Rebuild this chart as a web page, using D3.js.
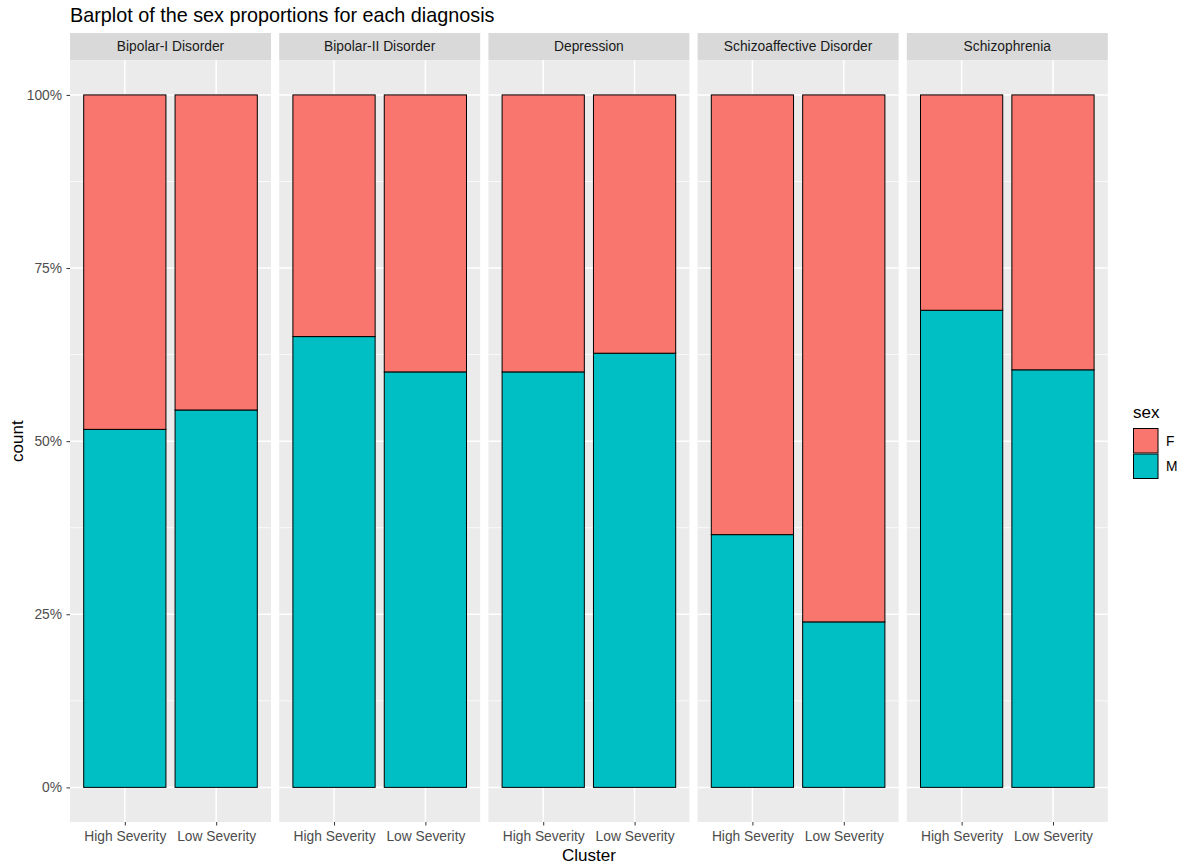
<!DOCTYPE html>
<html>
<head>
<meta charset="utf-8">
<script src="https://cdn.jsdelivr.net/npm/d3@7"></script>
<style>
  body { margin: 0; background: #fff; }
  svg { display: block; font-family: "Liberation Sans", Arial, sans-serif; }
</style>
</head>
<body>
<svg id="chart" width="1191" height="868"></svg>
<script>
// ---- data ----
const diagnoses = ["Bipolar-I Disorder", "Bipolar-II Disorder", "Depression", "Schizoaffective Disorder", "Schizophrenia"];
const clusters = ["High Severity", "Low Severity"];
const sexes = ["F", "M"];
// proportion of males per diagnosis, [High Severity, Low Severity]
const maleShare = [
  [0.517, 0.545],
  [0.651, 0.600],
  [0.600, 0.627],
  [0.365, 0.239],
  [0.689, 0.603]
];
const femaleShare = maleShare.map(r => r.map(v => 1 - v));
const yTicks = [0, 0.25, 0.5, 0.75, 1];
const yMinor = [0.125, 0.375, 0.625, 0.875];
const colors = { F: "#F8766D", M: "#00BFC4" };

// ---- layout ----
const svg = d3.select("#chart");
const plotLeft = 70, panelW = 201, panelGap = 8.2;
const panelTop = 60.3, panelBottom = 822, stripTop = 33;

const y = d3.scaleLinear().domain([-0.05, 1.05]).range([panelBottom, panelTop]);
const x = d3.scalePoint().domain(clusters).range([0, panelW]).padding(0.6);
const barW = x.step() * 0.9;
const panelX = d3.scaleBand().domain(diagnoses)
  .range([plotLeft, plotLeft + 5 * panelW + 4 * panelGap]).paddingInner(panelGap / (panelW + panelGap));

// title
svg.append("text").attr("x", plotLeft).attr("y", 22)
  .attr("font-size", 19.8).attr("fill", "#000").text("Barplot of the sex proportions for each diagnosis");

diagnoses.forEach((d, i) => {
  const g = svg.append("g").attr("transform", `translate(${panelX(d)},0)`);
  // strip
  g.append("rect").attr("x", 0).attr("y", stripTop).attr("width", panelW).attr("height", panelTop - stripTop).attr("fill", "#D9D9D9");
  g.append("text").attr("x", panelW / 2).attr("y", (stripTop + panelTop) / 2 + 4.8)
    .attr("text-anchor", "middle").attr("font-size", 13.8).attr("fill", "#1A1A1A").text(d);
  // panel bg
  g.append("rect").attr("x", 0).attr("y", panelTop).attr("width", panelW).attr("height", panelBottom - panelTop).attr("fill", "#EBEBEB");
  // minor grid
  g.selectAll(".minor").data(yMinor).join("line")
    .attr("x1", 0).attr("x2", panelW).attr("y1", v => y(v)).attr("y2", v => y(v))
    .attr("stroke", "#fff").attr("stroke-width", 0.75);
  // major grid
  g.selectAll(".majorY").data(yTicks).join("line")
    .attr("x1", 0).attr("x2", panelW).attr("y1", v => y(v)).attr("y2", v => y(v))
    .attr("stroke", "#fff").attr("stroke-width", 1.5);
  g.selectAll(".majorX").data(clusters).join("line")
    .attr("x1", c => x(c)).attr("x2", c => x(c)).attr("y1", panelTop).attr("y2", panelBottom)
    .attr("stroke", "#fff").attr("stroke-width", 1.5);
  // bars
  clusters.forEach((c, j) => {
    const m = maleShare[i][j], f = femaleShare[i][j];
    const stack = [
      { sex: "M", y0: 0, y1: m },
      { sex: "F", y0: m, y1: m + f }
    ];
    stack.forEach(s => {
      g.append("rect")
        .attr("x", x(c) - barW / 2).attr("width", barW)
        .attr("y", y(s.y1)).attr("height", y(s.y0) - y(s.y1))
        .attr("fill", colors[s.sex]).attr("stroke", "#000").attr("stroke-width", 1);
    });
  });
  // x axis
  const ax = g.append("g").attr("transform", `translate(0,${panelBottom})`)
    .call(d3.axisBottom(x).tickSize(3.5).tickPadding(5.5));
  ax.select(".domain").remove();
  ax.selectAll("line").attr("stroke", "#333").attr("stroke-width", 1);
  ax.selectAll("text").attr("font-size", 13.8).attr("fill", "#4D4D4D").attr("font-family", "Liberation Sans, Arial, sans-serif");
});

// y axis
const ay = svg.append("g").attr("transform", `translate(${plotLeft},0)`)
  .call(d3.axisLeft(y).tickValues(yTicks).tickFormat(d3.format(".0%")).tickSize(3.5).tickPadding(4.5));
ay.select(".domain").remove();
ay.selectAll("line").attr("stroke", "#333").attr("stroke-width", 1);
ay.selectAll("text").attr("font-size", 13.8).attr("fill", "#4D4D4D").attr("font-family", "Liberation Sans, Arial, sans-serif");

// axis titles
const plotRight = plotLeft + 5 * panelW + 4 * panelGap;
svg.append("text").attr("x", (plotLeft + plotRight) / 2).attr("y", 861)
  .attr("text-anchor", "middle").attr("font-size", 17).attr("fill", "#000").text("Cluster");
svg.append("text").attr("transform", `translate(23,${y(0.5)}) rotate(-90)`)
  .attr("text-anchor", "middle").attr("font-size", 17).attr("fill", "#000").text("count");

// legend
const lg = svg.append("g").attr("transform", "translate(1133,0)");
lg.append("text").attr("x", 0).attr("y", 418).attr("font-size", 17).attr("fill", "#000").text("sex");
sexes.forEach((s, k) => {
  const top = 428 + k * 25.5;
  lg.append("rect").attr("x", 0).attr("y", top).attr("width", 25.5).attr("height", 25.5).attr("fill", "#F2F2F2");
  lg.append("rect").attr("x", 0.5).attr("y", top + 0.5).attr("width", 24.5).attr("height", 24.5)
    .attr("fill", colors[s]).attr("stroke", "#000").attr("stroke-width", 1);
  lg.append("text").attr("x", 33).attr("y", top + 12.75 + 4.8).attr("font-size", 13.8).attr("fill", "#000").text(s);
});
</script>
</body>
</html>
